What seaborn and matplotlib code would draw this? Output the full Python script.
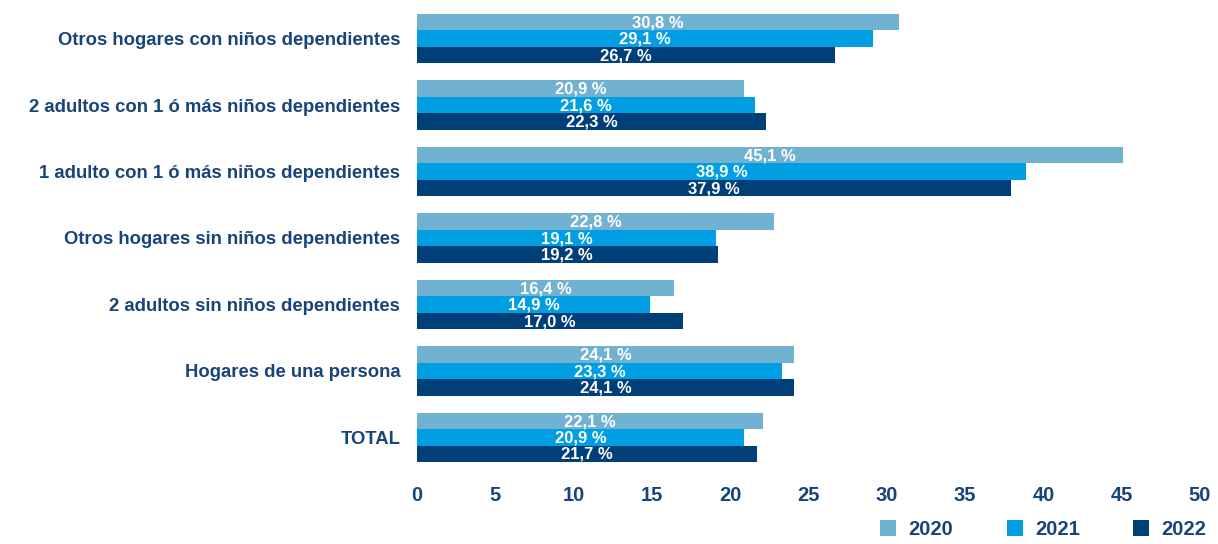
import numpy as np
import pandas as pd
import matplotlib
matplotlib.use("Agg")
import matplotlib.pyplot as plt
import seaborn as sns
from matplotlib.patches import Patch

categories = [
    "Otros hogares con niños dependientes",
    "2 adultos con 1 ó más niños dependientes",
    "1 adulto con 1 ó más niños dependientes",
    "Otros hogares sin niños dependientes",
    "2 adultos sin niños dependientes",
    "Hogares de una persona",
    "TOTAL",
]
years = ["2020", "2021", "2022"]
values_2020 = [30.8, 20.9, 45.1, 22.8, 16.4, 24.1, 22.1]
values_2021 = [29.1, 21.6, 38.9, 19.1, 14.9, 23.3, 20.9]
values_2022 = [26.7, 22.3, 37.9, 19.2, 17.0, 24.1, 21.7]
x_ticks = [0, 5, 10, 15, 20, 25, 30, 35, 40, 45, 50]

colors = ["#71B1D1", "#009FE3", "#003F77"]
text_color = "#17457A"

df = pd.DataFrame({
    "categoria": categories * 3,
    "anio": [y for y in years for _ in categories],
    "valor": values_2020 + values_2021 + values_2022,
})

sns.set_theme(style="white")
plt.rcParams["font.family"] = ["Liberation Sans", "DejaVu Sans"]

fig = plt.figure(figsize=(12.18, 5.44), dpi=100)
ax = fig.add_axes([417 / 1218, 1 - 462 / 544, (1200 - 417) / 1218, (462 - 14) / 544])

sns.barplot(
    data=df, y="categoria", x="valor", hue="anio", orient="h",
    palette=colors, width=0.74, linewidth=0, saturation=1,
    order=categories, hue_order=years, legend=False, ax=ax,
)

for container in ax.containers:
    for bar in container:
        w = bar.get_width()
        ax.text(
            w / 2, bar.get_y() + bar.get_height() / 2 + 0.01,
            f"{w:.1f}".replace(".", ",") + " %",
            ha="center", va="center", color="white",
            fontsize=12, fontweight="bold",
        )

ax.set_xlim(0, 50)
ax.set_ylim(6.37, -0.37)
ax.set_xticks(x_ticks)
ax.set_xticklabels([str(t) for t in x_ticks], fontsize=14.5, fontweight="bold",
                   color=text_color)
ax.set_yticklabels(categories, fontsize=13.3, fontweight="bold", color=text_color)
ax.tick_params(axis="x", length=0, pad=17)
ax.tick_params(axis="y", length=0, pad=12)
ax.set_xlabel("")
ax.set_ylabel("")
for s in ax.spines.values():
    s.set_visible(False)
ax.grid(False)

handles = [Patch(facecolor=c, edgecolor="none") for c in colors]
fig.legend(
    handles, years, loc="lower right", bbox_to_anchor=(1210 / 1218, 0.002),
    ncol=3, frameon=False, handlelength=0.8, handleheight=0.8,
    handletextpad=0.6, columnspacing=2.65, borderaxespad=0.0, borderpad=0.2,
    prop={"size": 14.5, "weight": "bold"}, labelcolor=text_color,
)

fig.savefig("out.png", dpi=100, facecolor="white")
